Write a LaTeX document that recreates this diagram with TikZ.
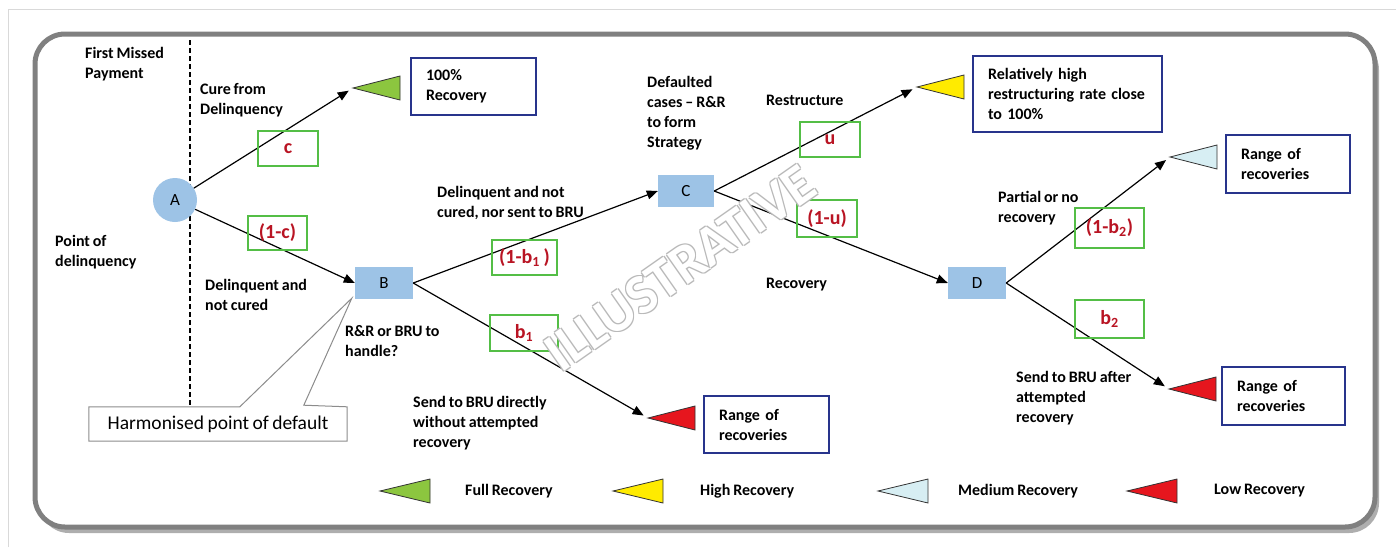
\documentclass[tikz,border=0pt]{standalone}
\usepackage{fontspec}
\setmainfont{Carlito}[WordSpace=0.8]
\usepackage{tikz}
\usetikzlibrary{arrows.meta,shadows}

\definecolor{nodeblue}{RGB}{157,195,230}
\definecolor{probgreen}{RGB}{84,190,70}
\definecolor{probred}{RGB}{185,20,35}
\definecolor{boxnavy}{RGB}{40,52,140}
\definecolor{fullgreen}{RGB}{140,198,63}
\definecolor{highyellow}{RGB}{255,235,0}
\definecolor{medblue}{RGB}{215,238,243}
\definecolor{lowred}{RGB}{230,22,30}

\begin{document}
\begin{tikzpicture}[x=1pt,y=-1pt,
    font=\fontsize{16}{20}\selectfont\bfseries,
    every node/.style={inner sep=0pt},
    stage/.style={fill=nodeblue, font=\fontsize{17}{20}\selectfont, minimum width=58pt, minimum height=32pt},
    prob/.style={draw=probgreen, line width=2.5pt, text=probred, font=\fontsize{20}{22}\selectfont\bfseries, minimum height=35pt},
    outcome/.style={draw=boxnavy, line width=2pt, align=left, inner xsep=15pt},
    lbl/.style={anchor=west, align=left},
    branch/.style={line width=1.2pt, -{Triangle[length=11pt,width=9pt]}},
    tri/.style={draw=black!80, line width=0.8pt, line join=miter},
    wmark/.style={rotate=35, font=\fontsize{56}{60}\selectfont\bfseries}]
                \useasboundingbox (0,0) rectangle (1396,547);
                % frame
                \draw[gray!30, line width=1pt] (8,547) -- (8,9.5) -- (1396,9.5);
                \draw[line width=5pt, draw=black!50, fill=white, rounded corners=30pt,
                      drop shadow={shadow xshift=4pt, shadow yshift=-6pt, opacity=.45, fill=black!70}] (35,34) rectangle (1375,527);
                \draw[line width=1.3pt, dash pattern=on 5pt off 3pt] (190,40) -- (190,405);

                % decision points
                \node[stage, circle, minimum size=44pt] (A) at (175,200) {A};
                \node[stage] (B) at (384,283) {B};
                \node[stage, minimum width=56pt] (C) at (686,191) {C};
                \node[stage] (D) at (977,283) {D};

                % outcome triangles
                \foreach \x/\y/\col/\nm in {353/88/fullgreen/tfull, 917/87/highyellow/thigh, 1170/157/medblue/tmed, 1169/389/lowred/tlow, 648/418/lowred/tlowmid}
                \draw[tri, fill=\col] (\x,\y) coordinate (\nm) -- ++(47,-12) -- ++(0,24) -- cycle;

                % outcome boxes
                \node[outcome, minimum width=125pt, minimum height=57pt, text width=95pt] (rec100) at (473.5,86.5) {100\%\\Recovery};
                \node[outcome, minimum width=189pt, minimum height=76pt, text width=159pt] (relhigh) at (1067.5,94) {Relatively high\\restructuring rate close\\to 100\%};
                \node[outcome, minimum width=124pt, minimum height=58pt, text width=94pt] (rangemed) at (1288,164) {Range of\\recoveries};
                \node[outcome, minimum width=123pt, minimum height=58pt, text width=93pt] (rangelow) at (1283.5,396) {Range of\\recoveries};
                \node[outcome, minimum width=125pt, minimum height=57pt, text width=95pt] (rangemid) at (766.5,424.5) {Range of\\recoveries};

                % branches
                \draw[branch, shorten >=5pt] (A) -- (tfull);
                \draw[branch] (A) -- (B.west);
                \draw[branch] (B.east) -- (C.west);
                \draw[branch, shorten >=5pt] (B.east) -- (tlowmid);
                \draw[branch, shorten >=5pt] (C.east) -- (thigh);
                \draw[branch] (C.east) -- (D.west);
                \draw[branch, shorten >=5pt] (D.east) -- (tmed);
                \draw[branch, shorten >=5pt] (D.east) -- (tlow);

                % probabilities
                \node[prob, minimum width=60pt] (pc) at (288,148.5) {c};
                \node[prob, minimum width=59pt, minimum height=34pt] (pnc) at (277.5,233) {(1-c)};
                \node[prob, minimum width=65pt] (pnb1) at (524.5,257.5) {(1-b\textsubscript{1} )};
                \node[prob, minimum width=68pt, minimum height=36pt] (pb1) at (524,333) {b\textsubscript{1}};
                \node[prob, minimum width=60pt] (pu) at (830,139.5) {u};
                \node[prob, minimum width=60pt, minimum height=37pt] (pnu) at (827,218.5) {(1-u)};
                \node[prob, minimum width=69pt, minimum height=40pt] (pnb2) at (1109.5,228) {(1-b\textsubscript{2})};
                \node[prob, minimum width=69pt, minimum height=38pt] (pb2) at (1109.5,319) {b\textsubscript{2}};

                % descriptions
                \node[lbl] (fmp) at (85,64) {First Missed\\Payment};
                \node[lbl] (pod) at (55,252.5) {Point of\\delinquency};
                \node[lbl] (cure) at (200,100) {Cure from\\Delinquency};
                \node[lbl] (dnc) at (205,295) {Delinquent and\\not cured};
                \node[lbl] (rrbru) at (345,341.5) {R\&R or BRU to\\handle?};
                \node[lbl] (dncbru) at (437,203) {Delinquent and not\\cured, nor sent to BRU};
                \node[lbl] (dflt) at (647,113.5) {Defaulted\\cases -- R\&R\\to form\\Strategy};
                \node[lbl] (restr) at (766,100) {Restructure};
                \node[lbl] (recov) at (766,285) {Recovery};
                \node[lbl] (bdir) at (413,423) {Send to BRU directly\\without attempted\\recovery};
                \node[lbl] (partial) at (998,208) {Partial or no\\recovery};
                \node[lbl] (bafter) at (1016,398.5) {Send to BRU after\\attempted\\recovery};

                % callout
                \node[minimum width=258pt, minimum height=34pt] (harm) at (218,424) {};
                \draw[black!45, line width=1pt, fill=white] (harm.north west) -- ++(151,0) -- ([xshift=-3pt,yshift=1pt]B.south west) -- ++(-48,107) -- (harm.north east) -- (harm.south east) -- (harm.south west) -- cycle;
                \node[font=\fontsize{19.5}{22}\selectfont] (harmtxt) at (harm) {Harmonised point of default};

                % legend
                \foreach \x/\tx/\col/\txt [count=\i] in {380/85/fullgreen/Full Recovery, 613/87/highyellow/High Recovery, 878/80/medblue/Medium Recovery, 1127/87/lowred/Low Recovery}
                {
                \draw[tri, fill=\col] (\x,491) coordinate (key\i) -- ++(50,-12) -- ++(0,24) -- cycle;
                \node[lbl] (keytxt\i) at (\x+\tx,491) {\txt};
                }

                % watermark (outlined look)
                \foreach \a in {45,135,225,315}
                \path (680,268) ++(\a:1.4) node[wmark, text=gray!55] (wmo\a) {ILLUSTRATIVE};
                \node[wmark, text=white] (wm) at (680,268) {ILLUSTRATIVE};
            \end{tikzpicture}
\end{document}
